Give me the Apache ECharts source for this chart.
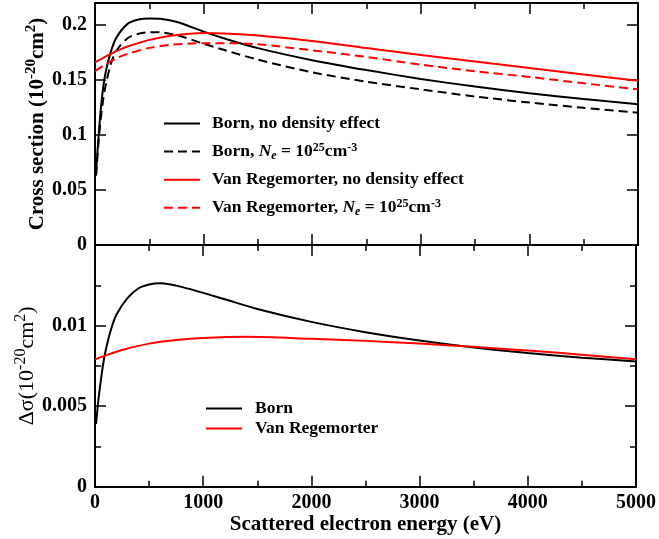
<!DOCTYPE html>
<html>
<head>
<meta charset="utf-8">
<script src="https://cdn.jsdelivr.net/npm/echarts@6/dist/echarts.min.js"></script>
<style>
  html, body { margin: 0; padding: 0; background: #fff; }
  #chart { width: 659px; height: 539px; }
</style>
</head>
<body>
<div id="chart"></div>
<script>
// Cross sections (10^-20 cm^2) versus scattered electron energy (eV)
const energyBorn = [10, 30, 50, 75, 100, 150, 200, 300, 400, 500, 600, 700, 800, 1000, 1200, 1500, 2000, 2500, 3000, 3500, 4000, 4500, 5000];
const bornNoDensity = [0.066, 0.095, 0.120, 0.143, 0.158, 0.177, 0.189, 0.201, 0.205, 0.206, 0.2057, 0.2040, 0.2014, 0.194, 0.1875, 0.179, 0.168, 0.159, 0.151, 0.144, 0.138, 0.1327, 0.128];
const bornDensity = [0.063, 0.090, 0.112, 0.132, 0.146, 0.166, 0.177, 0.188, 0.192, 0.1935, 0.1933, 0.1918, 0.1895, 0.183, 0.177, 0.1685, 0.157, 0.1485, 0.1415, 0.135, 0.1295, 0.1247, 0.1203];

const energyVR = [0, 100, 200, 300, 500, 700, 1000, 1300, 1500, 2000, 2500, 3000, 3500, 4000, 4500, 5000];
const vrNoDensity = [0.166, 0.1715, 0.1765, 0.1805, 0.1865, 0.1903, 0.1928, 0.1918, 0.1905, 0.1855, 0.179, 0.1727, 0.1668, 0.161, 0.155, 0.1493];
const vrDensity = [0.158, 0.1645, 0.170, 0.1738, 0.1792, 0.1820, 0.1835, 0.1833, 0.1825, 0.177, 0.171, 0.164, 0.158, 0.1528, 0.147, 0.1415];

// Difference between the two densities
const energyDeltaBorn = [10, 30, 50, 75, 100, 150, 200, 300, 400, 500, 600, 700, 800, 1000, 1200, 1500, 2000, 2500, 3000, 3500, 4000, 4500, 5000];
const deltaBorn = [0.0039, 0.0053, 0.0064, 0.0076, 0.0085, 0.0098, 0.0107, 0.0117, 0.0123, 0.01255, 0.01263, 0.01255, 0.0124, 0.01203, 0.01163, 0.01103, 0.01023, 0.00959, 0.00907, 0.00864, 0.00829, 0.00801, 0.00777];
const energyDeltaVR = [0, 100, 250, 500, 750, 1000, 1400, 2000, 2500, 3000, 3500, 4000, 4500, 5000];
const deltaVR = [0.0079, 0.00815, 0.00848, 0.00888, 0.0091, 0.00923, 0.0093, 0.00918, 0.00905, 0.00888, 0.00868, 0.00845, 0.00819, 0.00791];

const FONT = '"Liberation Serif", "Times New Roman", serif';
const pairs = (xs, ys) => xs.map((x, i) => [x, ys[i]]);

const base = { fontFamily: FONT, fontWeight: 'bold', fontSize: 17.5, lineHeight: 20, verticalAlign: 'middle' };
const ital = Object.assign({}, base, { fontStyle: 'italic' });
const sup = { fontFamily: FONT, fontWeight: 'bold', fontSize: 12, verticalAlign: 'top', lineHeight: 8 };
const sub = { fontFamily: FONT, fontWeight: 'bold', fontStyle: 'italic', fontSize: 12, verticalAlign: 'bottom', lineHeight: 9 };

const legendText = {
  'Born, no density effect': '{b|Born, no density effect}',
  'Born, Ne': '{b|Born, }{i|N}{sub|e}{b| = 10}{sup|25}{b|cm}{sup|-3}',
  'Van Regemorter, no density effect': '{b|Van Regemorter, no density effect}',
  'Van Regemorter, Ne': '{b|Van Regemorter, }{i|N}{sub|e}{b| = 10}{sup|25}{b|cm}{sup|-3}',
  'Born': '{b|Born}',
  'Van Regemorter': '{b|Van Regemorter}'
};

function xAxisDef(grid, pos, labels, name) {
  return {
    type: 'value', gridIndex: grid, position: pos, min: 0, max: 5000, interval: 1000,
    axisLine: { onZero: false, lineStyle: { color: '#000', width: 2 } },
    axisTick: { inside: true, length: 11, lineStyle: { color: '#000', width: 1.5 } },
    minorTick: { show: true, splitNumber: 2, length: 6, lineStyle: { color: '#000', width: 1.5 } },
    splitLine: { show: false },
    axisLabel: labels ? {
      show: true, fontFamily: FONT, fontWeight: 'bold', fontSize: 20, color: '#000', margin: 6,
      formatter: v => String(v)
    } : { show: false },
    name: name || '', nameLocation: 'middle', nameGap: 26,
    nameTextStyle: { fontFamily: FONT, fontWeight: 'bold', fontSize: 21, color: '#000' }
  };
}

function yAxisDef(grid, pos, max, interval, minor, labels, name, nameStyle, nameGap) {
  return {
    type: 'value', gridIndex: grid, position: pos, min: 0, max: max, interval: interval,
    axisLine: { onZero: false, lineStyle: { color: '#000', width: 2 } },
    axisTick: { inside: true, length: 11, lineStyle: { color: '#000', width: 1.5 } },
    minorTick: { show: minor, splitNumber: 2, length: 6, lineStyle: { color: '#000', width: 1.5 } },
    splitLine: { show: false },
    axisLabel: labels ? {
      show: true, fontFamily: FONT, fontWeight: 'bold', fontSize: 20, color: '#000', margin: 8,
      showMaxLabel: false, formatter: v => String(v)
    } : { show: false },
    name: name || '', nameLocation: 'middle', nameGap: nameGap || 0,
    nameMoveOverlap: false,
    nameTextStyle: nameStyle || {}
  };
}

function lineSeries(name, xi, yi, xs, ys, color, dashed) {
  return {
    name: name, type: 'line', xAxisIndex: xi, yAxisIndex: yi,
    data: pairs(xs, ys), symbol: 'none', smooth: 0.3, clip: true,
    lineStyle: { color: color, width: 2, type: dashed ? [9, 5] : 'solid' },
    itemStyle: { color: color }
  };
}

const topNameStyle = {
  fontFamily: FONT, fontWeight: 'bold', fontSize: 21, color: '#000',
  rich: {
    t: { fontFamily: FONT, fontWeight: 'bold', fontSize: 21, lineHeight: 28, verticalAlign: 'middle' },
    s: { fontFamily: FONT, fontWeight: 'bold', fontSize: 15, lineHeight: 12, verticalAlign: 'top' }
  }
};
const bottomNameStyle = {
  fontFamily: FONT, fontSize: 22, color: '#000',
  rich: {
    t: { fontFamily: FONT, fontSize: 22, lineHeight: 28, verticalAlign: 'middle' },
    s: { fontFamily: FONT, fontSize: 16, lineHeight: 12, verticalAlign: 'top' }
  }
};

const legendCommon = {
  orient: 'vertical', padding: 0, itemWidth: 36, itemHeight: 14,
  formatter: n => legendText[n],
  itemStyle: { opacity: 0 },
  textStyle: {
    color: '#000', fontFamily: FONT, fontWeight: 'bold', fontSize: 17.5, lineHeight: 20,
    padding: [0, 0, 0, 7],
    rich: { b: base, i: ital, sup: sup, sub: sub }
  },
  selectedMode: false
};

const chart = echarts.init(document.getElementById('chart'), null, { renderer: 'canvas' });
chart.setOption({
  animation: false,
  backgroundColor: '#fff',
  grid: [
    { left: 95, right: 21, top: 3, height: 242 },
    { left: 95, right: 21, top: 245, height: 241.7 }
  ],
  xAxis: [
    xAxisDef(0, 'bottom', false),
    xAxisDef(0, 'top', false),
    xAxisDef(1, 'bottom', true, 'Scattered electron energy (eV)'),
    xAxisDef(1, 'top', false)
  ],
  yAxis: [
    yAxisDef(0, 'left', 0.22, 0.05, false, true,
      '{t|Cross section (10}{s|-20}{t|cm}{s|2}{t|)}', topNameStyle, 43),
    yAxisDef(0, 'right', 0.22, 0.05, false, false),
    yAxisDef(1, 'left', 0.015, 0.005, true, true,
      '{t|Δσ(10}{s|-20}{t|cm}{s|2}{t|)}', bottomNameStyle, 54),
    yAxisDef(1, 'right', 0.015, 0.005, true, false)
  ],
  legend: [
    Object.assign({}, legendCommon, {
      left: 163, top: 113.5, itemGap: 8.1,
      data: ['Born, no density effect', 'Born, Ne', 'Van Regemorter, no density effect', 'Van Regemorter, Ne']
    }),
    Object.assign({}, legendCommon, {
      left: 205, top: 398.5, itemGap: 0,
      textStyle: Object.assign({}, legendCommon.textStyle, { lineHeight: 19.4, padding: [0, 0, 0, 8] }),
      data: ['Born', 'Van Regemorter']
    })
  ],
  series: [
    lineSeries('Born, no density effect', 0, 0, energyBorn, bornNoDensity, '#000', false),
    lineSeries('Born, Ne', 0, 0, energyBorn, bornDensity, '#000', true),
    lineSeries('Van Regemorter, no density effect', 0, 0, energyVR, vrNoDensity, '#ff0000', false),
    lineSeries('Van Regemorter, Ne', 0, 0, energyVR, vrDensity, '#ff0000', true),
    lineSeries('Born', 2, 2, energyDeltaBorn, deltaBorn, '#000', false),
    lineSeries('Van Regemorter', 2, 2, energyDeltaVR, deltaVR, '#ff0000', false)
  ]
});
</script>
</body>
</html>
